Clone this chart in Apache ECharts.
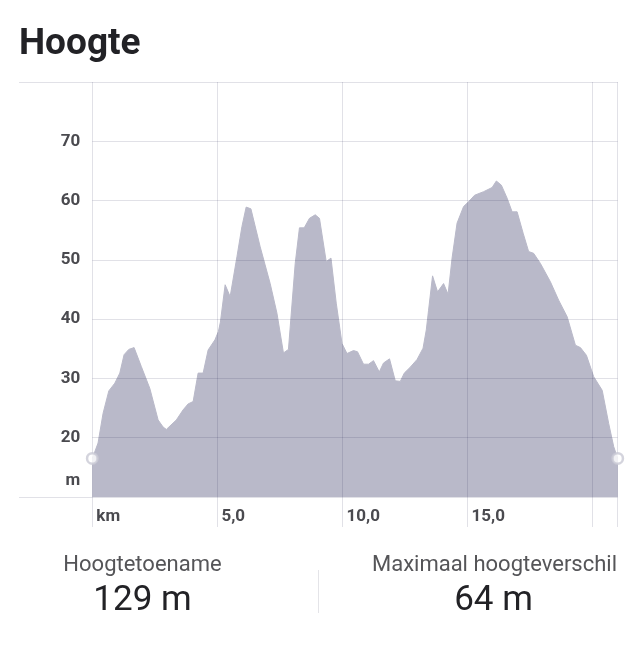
<!DOCTYPE html>
<html>
<head>
<meta charset="utf-8">
<script src="https://cdn.jsdelivr.net/npm/echarts@6/dist/echarts.min.js"></script>
<style>
  html, body { margin: 0; padding: 0; background: #fff; }
  #chart { width: 642px; height: 651px; }
</style>
</head>
<body>
<div id="chart"></div>
<script>
// Distance along the route (km)
const dist = [
  0.00, 0.23, 0.43, 0.66, 0.90, 1.10, 1.27, 1.46, 1.67, 1.96,
  2.30, 2.63, 2.83, 2.96, 3.36, 3.63, 3.83, 4.03, 4.23, 4.43,
  4.63, 4.90, 5.04, 5.12, 5.31, 5.51, 5.78, 5.98, 6.15, 6.34,
  6.71, 7.11, 7.38, 7.64, 7.84, 8.11, 8.28, 8.47, 8.68, 8.91,
  9.08, 9.35, 9.54, 9.75, 9.98, 10.18, 10.44, 10.60, 10.84, 11.04,
  11.24, 11.47, 11.64, 11.88, 12.11, 12.31, 12.47, 12.71, 12.98, 13.22,
  13.35, 13.44, 13.60, 13.80, 14.04, 14.22, 14.38, 14.58, 14.84, 15.04,
  15.28, 15.64, 15.98, 16.15, 16.35, 16.58, 16.78, 16.98, 17.22, 17.44,
  17.64, 17.91, 18.31, 18.64, 18.98, 19.31, 19.51, 19.75, 20.04, 20.38,
  20.64, 20.84, 21.00
];
// Elevation (m)
const elev = [
  16.5, 19.1, 24.1, 27.9, 29.2, 30.9, 34.0, 34.9, 35.2, 32.0,
  28.3, 23.0, 21.8, 21.4, 23.0, 24.7, 25.7, 26.1, 30.9, 30.9,
  34.8, 36.5, 37.9, 39.5, 45.8, 43.8, 50.5, 55.6, 58.9, 58.6,
  52.2, 46.0, 41.0, 34.3, 34.9, 49.4, 55.4, 55.4, 57.0, 57.6,
  57.0, 49.7, 50.3, 42.7, 35.9, 34.2, 34.7, 34.5, 32.4, 32.4,
  33.0, 31.1, 32.6, 33.3, 29.6, 29.5, 30.9, 31.9, 33.2, 35.1,
  38.2, 41.5, 47.3, 44.6, 46.0, 44.2, 50.3, 56.2, 59.0, 59.8,
  60.9, 61.5, 62.2, 63.3, 62.6, 60.4, 58.1, 58.1, 54.5, 51.4,
  51.1, 49.4, 46.3, 43.2, 40.4, 35.6, 35.2, 33.9, 30.3, 28.0,
  22.4, 18.5, 16.5
];
// Axis tick labels
const xTickLabels = { 0: 'km', 5: '5,0', 10: '10,0', 15: '15,0' };
const yUnitLabel = 'm';
const titleText = 'Hoogte';
const statLabels = ['Hoogtetoename', 'Maximaal hoogteverschil'];
const statValues = ['129 m', '64 m'];

const points = dist.map((d, i) => [d, elev[i]]);
const endpoints = [points[0], points[points.length - 1]];

const gridColor = 'rgba(20,20,70,0.13)';
const labelFont = { fontFamily: 'Roboto', fontSize: 17, fontWeight: 'bold', color: '#4a4a4f' };

const chart = echarts.init(document.getElementById('chart'), null, { renderer: 'canvas' });
chart.setOption({
  animation: false,
  backgroundColor: '#ffffff',
  grid: { left: 92.3, right: 24.3, top: 82, bottom: 154, containLabel: false },
  xAxis: {
    type: 'value',
    min: 0,
    max: dist[dist.length - 1],
    interval: 5,
    z: 5,
    axisLine: { show: false },
    axisTick: { show: true, length: 30, lineStyle: { color: gridColor, width: 1 } },
    splitLine: { show: true, lineStyle: { color: gridColor, width: 1 } },
    axisLabel: Object.assign({
      margin: 20,
      align: 'left',
      verticalAlign: 'middle',
      padding: [0, 0, 0, 4],
      formatter: v => (xTickLabels[v] !== undefined ? xTickLabels[v] : '')
    }, labelFont)
  },
  yAxis: [
    {
      type: 'value',
      min: 10,
      max: 80,
      interval: 10,
      z: 5,
      axisLine: { show: false },
      axisTick: { show: false },
      splitLine: { show: true, lineStyle: { color: gridColor, width: 1 } },
      axisLabel: Object.assign({
        margin: 12,
        formatter: v => (v === 10 ? '{u|' + yUnitLabel + '}' : (v === 80 ? '' : String(v))),
        rich: { u: Object.assign({ padding: [0, 0, 33, 0] }, labelFont) }
      }, labelFont)
    },
    {
      type: 'value',
      min: 10,
      max: 80,
      interval: 70,
      position: 'left',
      offset: 0,
      z: 5,
      axisLine: { show: false },
      axisTick: { show: true, length: 73.3, lineStyle: { color: gridColor, width: 1 } },
      splitLine: { show: false },
      axisLabel: { show: false }
    }
  ],
  series: [
    {
      type: 'line',
      data: points,
      yAxisIndex: 0,
      showSymbol: false,
      symbol: 'none',
      smooth: false,
      z: 2,
      lineStyle: { color: '#b9b9c9', width: 1 },
      areaStyle: { color: '#b9b9c9', opacity: 1 }
    },
    {
      type: 'scatter',
      data: endpoints,
      yAxisIndex: 0,
      symbol: 'circle',
      symbolSize: 10.5,
      z: 10,
      itemStyle: { color: '#ffffff', borderColor: '#c9c9d5', borderWidth: 2.5 },
      silent: true
    }
  ],
  graphic: [
    {
      type: 'text', left: 19, top: 26,
      style: { text: titleText, font: 'bold 37px Roboto', fill: '#222226' }
    },
    {
      type: 'text', x: 142.5, y: 565,
      style: { text: statLabels[0], font: '22px Roboto', fill: '#555558', align: 'center', verticalAlign: 'middle' }
    },
    {
      type: 'text', x: 142.5, y: 601,
      style: { text: statValues[0], font: '35px Roboto', fill: '#222226', align: 'center', verticalAlign: 'middle' }
    },
    {
      type: 'line', shape: { x1: 318.5, y1: 570, x2: 318.5, y2: 613 },
      style: { stroke: '#e4e4e8', lineWidth: 1 }
    },
    {
      type: 'text', x: 494.5, y: 565,
      style: { text: statLabels[1], font: '22px Roboto', fill: '#555558', align: 'center', verticalAlign: 'middle' }
    },
    {
      type: 'text', x: 493.5, y: 601,
      style: { text: statValues[1], font: '35px Roboto', fill: '#222226', align: 'center', verticalAlign: 'middle' }
    }
  ]
});
</script>
</body>
</html>
